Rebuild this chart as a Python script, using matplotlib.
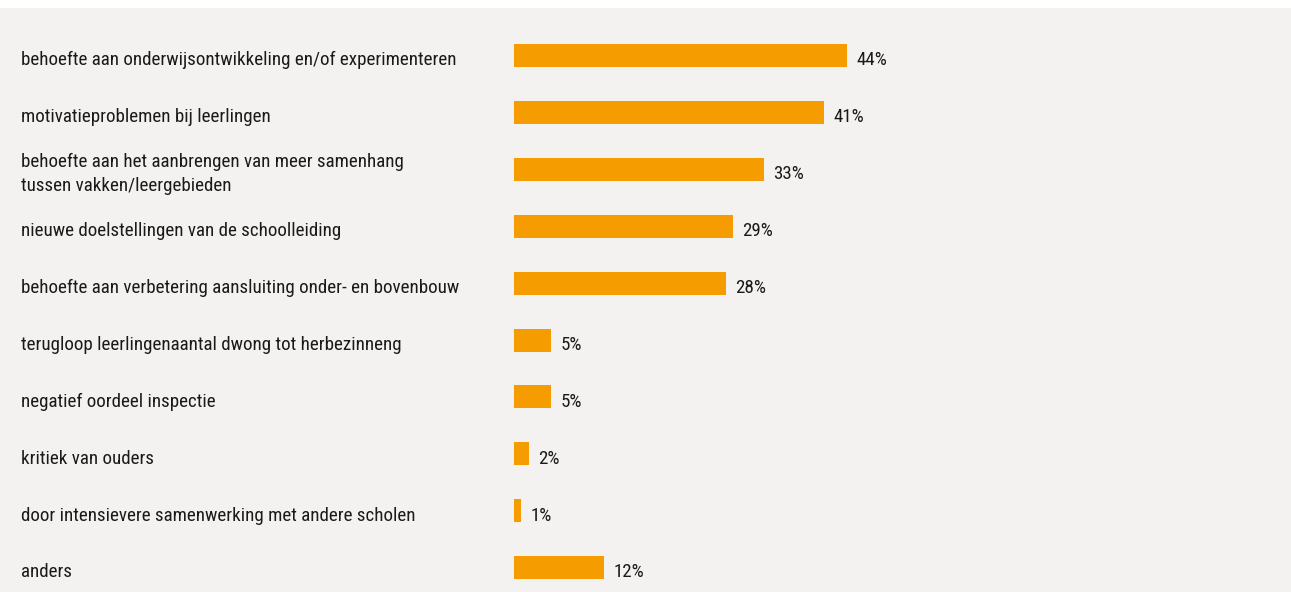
import matplotlib.pyplot as plt
import matplotlib.transforms as mtransforms
from matplotlib.patches import Rectangle

categories = [
    "behoefte aan onderwijsontwikkeling en/of experimenteren",
    "motivatieproblemen bij leerlingen",
    "behoefte aan het aanbrengen van meer samenhang\ntussen vakken/leergebieden",
    "nieuwe doelstellingen van de schoolleiding",
    "behoefte aan verbetering aansluiting onder- en bovenbouw",
    "terugloop leerlingenaantal dwong tot herbezinneng",
    "negatief oordeel inspectie",
    "kritiek van ouders",
    "door intensievere samenwerking met andere scholen",
    "anders",
]
percentages = [44, 41, 33, 29, 28, 5, 5, 2, 1, 12]

BAR_COLOR = "#f59c00"
BG_COLOR = "#f3f2f0"
TEXT_COLOR = "#1a1a1a"
FONT = ["Roboto Condensed", "Fira Sans Condensed", "Liberation Sans", "DejaVu Sans"]
FS = 13.7

W, H = 1291, 592
fig = plt.figure(figsize=(W / 100, H / 100), dpi=100, facecolor="white")
fig.patches.append(Rectangle((0, 0), 1.01, (H - 8) / H, transform=fig.transFigure,
                             facecolor=BG_COLOR, edgecolor="none", zorder=-10))

# axes from the bar baseline to the right edge, over the grey panel
left_px = 513.5
ax = fig.add_axes([left_px / W, 0, 1 - left_px / W, (H - 8) / H])
ax.set_facecolor("none")
px_per_pct = 7.58
ax.set_xlim(0, (W - left_px) / px_per_pct)

step = 56.9
top_offset = (55.5 - 8) / step
ax.set_ylim((H - 55.5) / step, -top_offset)

ypos = list(range(len(categories)))
ax.barh(ypos, percentages, height=23 / step, color=BAR_COLOR, left=0)

down = mtransforms.ScaledTranslation(0, -3.5 / 72, fig.dpi_scale_trans)
label_tr = mtransforms.blended_transform_factory(fig.transFigure, ax.transData) + down
for y, cat, val in zip(ypos, categories, percentages):
    ax.text(21 / W, y, cat, transform=label_tr, ha="left", va="center",
            fontsize=FS, family=FONT, color=TEXT_COLOR, linespacing=1.45)
    ax.text(val + 9 / px_per_pct, y, f"{val}%", transform=ax.transData + down,
            ha="left", va="center", fontsize=FS, family=FONT, color=TEXT_COLOR)

ax.axis("off")
fig.savefig("out.png", dpi=100, facecolor=fig.get_facecolor())
